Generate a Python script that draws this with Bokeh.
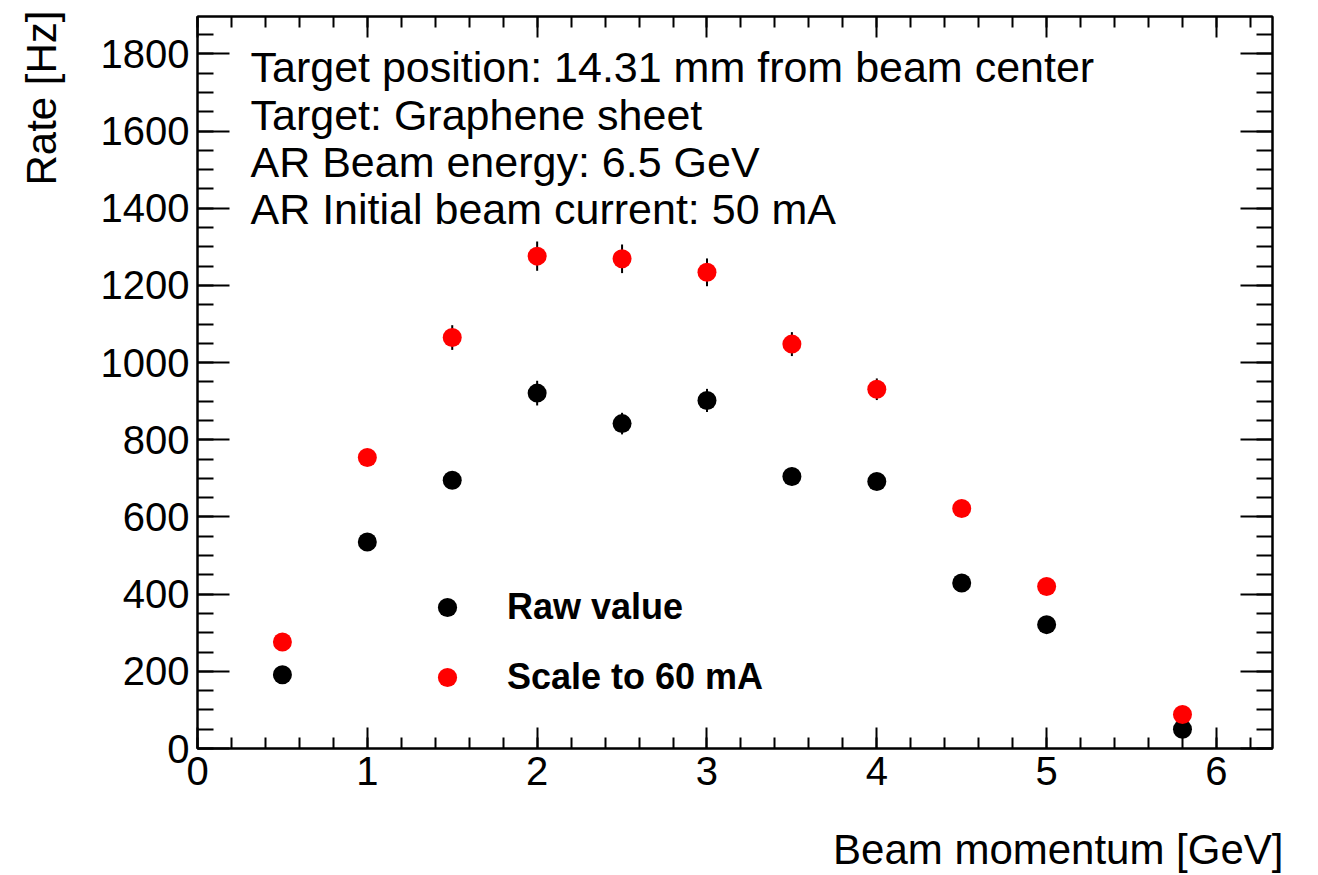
import math
from bokeh.plotting import figure
from bokeh.models import (ColumnDataSource, Range1d, LinearAxis, SingleIntervalTicker,
                          Legend, LegendItem, Label, Title, CustomJSTickFormatter)
from bokeh.embed import file_html
from bokeh.resources import INLINE

# ---- data ----
momentum = [0.5, 1.0, 1.5, 2.0, 2.5, 3.0, 3.5, 4.0, 4.5, 5.0, 5.8]
raw_rate = [191, 535, 695, 921, 842, 902, 705, 692, 429, 321, 50]
raw_err = [6, 16, 22, 32, 28, 30, 23, 22, 14, 10, 2]
scaled_rate = [276, 754, 1065, 1276, 1269, 1234, 1048, 931, 622, 420, 88]
scaled_err = [8, 22, 32, 38, 37, 36, 31, 28, 19, 13, 3]

annotation_lines = [
    "Target position: 14.31 mm from beam center",
    "Target: Graphene sheet",
    "AR Beam energy: 6.5 GeV",
    "AR Initial beam current: 50 mA",
]
series_names = ["Raw value", "Scale to 60 mA"]
x_title = "Beam momentum [GeV]"
y_title = "Rate [Hz]"

FONT = "Liberation Sans"

raw_src = ColumnDataSource(dict(
    x=momentum, y=raw_rate,
    lo=[v - e for v, e in zip(raw_rate, raw_err)],
    hi=[v + e for v, e in zip(raw_rate, raw_err)]))
sc_src = ColumnDataSource(dict(
    x=momentum, y=scaled_rate,
    lo=[v - e for v, e in zip(scaled_rate, scaled_err)],
    hi=[v + e for v, e in zip(scaled_rate, scaled_err)]))

p = figure(width=1318, height=875, output_backend="svg", toolbar_location=None,
           x_range=Range1d(0, 6.33), y_range=Range1d(0, 1897),
           x_axis_type=None, y_axis_type=None,
           min_border_left=197, min_border_right=46, min_border_top=16, min_border_bottom=127)
p.grid.visible = False
p.outline_line_color = "black"
p.outline_line_width = 2
p.background_fill_color = "white"
p.border_fill_color = "white"


def make_ticker(kind):
    if kind == "x":
        return SingleIntervalTicker(interval=1, num_minor_ticks=5)
    return SingleIntervalTicker(interval=200, num_minor_ticks=4)


def make_axis(kind, labels):
    maj, mnr = (21, 11) if kind == "x" else (32, 16)
    ax = LinearAxis(ticker=make_ticker(kind))
    ax.axis_line_color = "black"
    ax.axis_line_width = 2
    ax.major_tick_in = maj
    ax.major_tick_out = 0
    ax.minor_tick_in = mnr
    ax.minor_tick_out = 0
    ax.major_tick_line_width = 2
    ax.minor_tick_line_width = 2
    ax.major_tick_line_color = "black"
    ax.minor_tick_line_color = "black"
    ax.major_label_text_font = FONT
    ax.major_label_text_color = "black"
    ax.major_label_text_font_size = "40px"
    ax.major_label_standoff = 8
    if not labels:
        ax.formatter = CustomJSTickFormatter(code="return ''")
        ax.major_label_standoff = 0
    return ax


def spacer_axis(kind, size):
    # invisible axis used only to reserve space between tick labels and title
    ax = LinearAxis(ticker=make_ticker(kind), formatter=CustomJSTickFormatter(code="return ''"))
    ax.axis_line_color = None
    ax.major_tick_line_color = None
    ax.minor_tick_line_color = None
    ax.major_tick_in = 0
    ax.major_tick_out = size
    ax.minor_tick_in = 0
    ax.minor_tick_out = 0
    ax.major_label_standoff = 0
    return ax


p.add_layout(make_axis("x", True), "below")
p.add_layout(make_axis("y", True), "left")
p.add_layout(make_axis("x", False), "above")
p.add_layout(make_axis("y", False), "right")

p.add_layout(spacer_axis("x", 35), "below")
p.add_layout(spacer_axis("y", 32), "left")

# axis titles (ROOT style: aligned to the end of the axis)
p.add_layout(Title(text=x_title, align="right", offset=-11, standoff=2,
                   text_font=FONT, text_font_size="42px", text_font_style="normal",
                   text_color="black"), "below")
p.add_layout(Title(text=y_title, align="right", offset=-6, standoff=2,
                   text_font=FONT, text_font_size="42px", text_font_style="normal",
                   text_color="black"), "left")

# error bars
p.segment(x0="x", y0="lo", x1="x", y1="hi", source=raw_src, line_color="black", line_width=2)
p.segment(x0="x", y0="lo", x1="x", y1="hi", source=sc_src, line_color="black", line_width=2)

r_raw = p.scatter(x="x", y="y", source=raw_src, size=19, fill_color="black", line_color="black", line_width=0)
r_sc = p.scatter(x="x", y="y", source=sc_src, size=19, fill_color="#ff0000", line_color="#ff0000", line_width=0)

legend = Legend(items=[LegendItem(label=series_names[0], renderers=[r_raw]),
                       LegendItem(label=series_names[1], renderers=[r_sc])],
                location=(226, 47), padding=0, margin=0, spacing=22,
                glyph_width=48, glyph_height=48, label_height=48, label_standoff=36,
                label_text_font=FONT, label_text_font_size="36px", label_text_font_style="bold",
                label_text_color="black",
                background_fill_alpha=0, border_line_color=None)
p.add_layout(legend, "center")

# annotation lines
ann_y = [1765, 1643, 1521, 1399]
for txt, yy in zip(annotation_lines, ann_y):
    p.add_layout(Label(x=0.312, y=yy, text=txt, text_font=FONT, text_font_size="43px",
                       text_color="black", text_baseline="alphabetic", text_align="left"))

open("out.html", "w").write(file_html(p, INLINE))
